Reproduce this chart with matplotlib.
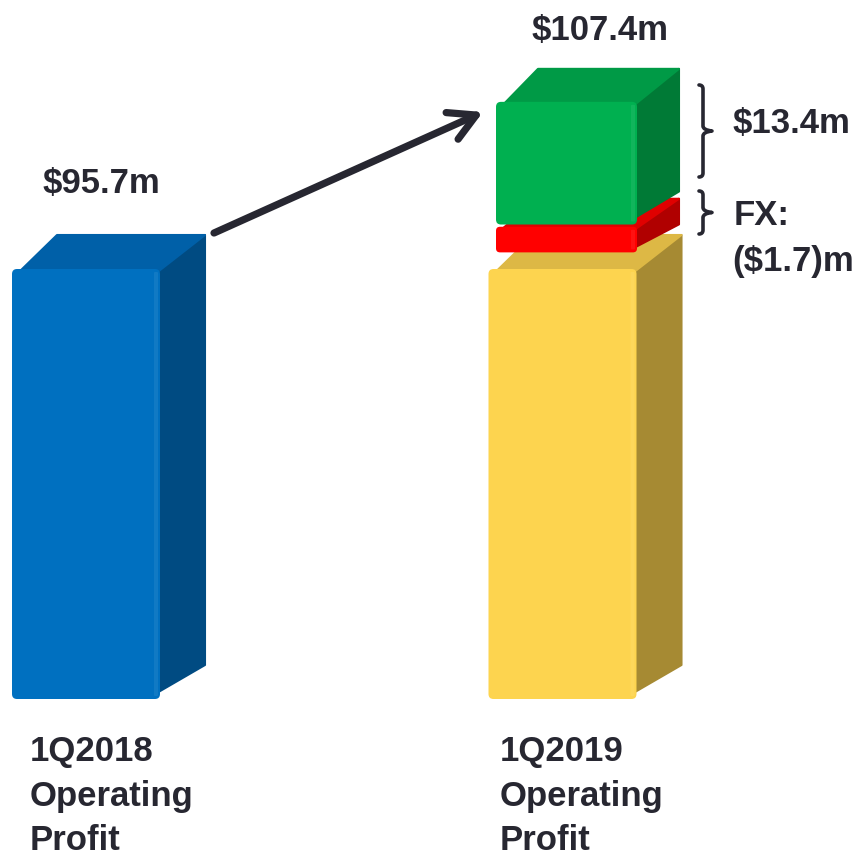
import matplotlib
matplotlib.use("Agg")
import matplotlib.pyplot as plt
from matplotlib.patches import FancyBboxPatch, Polygon
from matplotlib.path import Path
from matplotlib.patches import PathPatch

# ---------------- data ----------------
categories = ["1Q2018\nOperating\nProfit", "1Q2019\nOperating\nProfit"]
x_pos = [0, 1]
bar_values = [95.7, 95.7]            # drawn height of the two base bars
bar_colors = [("#0070C0", "#0060A8", "#004B82"),
              ("#FDD44F", "#DDB845", "#A68A33")]
# stacked (illustrative) segments on the 1Q2019 bar, as drawn
fx_span = (99.4, 105.1)
growth_span = (105.6, 132.9)
value_labels = ["$95.7m", "$107.4m"]
growth_label = "$13.4m"
fx_label = ["FX:", "($1.7)m"]

# ---------------- layout ----------------
W, H = 863, 853
fig = plt.figure(figsize=(W / 100, H / 100), dpi=100)
ax = fig.add_axes([0, 0, 1, 1])
PX_X = 476.5            # px per x unit
PX_Y = 430 / 95.7       # px per y unit
ax.set_xlim(-86 / PX_X, (W - 86) / PX_X)
ax.set_ylim(-153 / PX_Y, 700 / PX_Y)
ax.axis("off")
ASP = PX_X / PX_Y

TXT = "#272731"
FONT = dict(family=["Liberation Sans", "DejaVu Sans"], fontweight="bold",
            fontsize=25, color=TXT)


def box(xc, w, y0, y1, dxp, dyp, colors, rpx=5):
    front, top, side = colors
    dx = dxp / PX_X
    dy = dyp / PX_Y
    x0, x1 = xc - w / 2, xc + w / 2
    r = rpx / PX_X
    ry = rpx / PX_Y
    side_poly = Polygon([(x1 - r, y0 + ry), (x1 + dx, y0 + dy),
                         (x1 + dx, y1 + dy), (x1 - r, y1 - ry)],
                        closed=True, fc=side, ec=side, lw=1.5,
                        joinstyle="round", zorder=2)
    top_poly = Polygon([(x0 + r, y1 - ry), (x1 - r, y1 - ry),
                        (x1 + dx, y1 + dy), (x0 + dx, y1 + dy)],
                       closed=True, fc=top, ec=top, lw=1.5,
                       joinstyle="round", zorder=2)
    ax.add_patch(side_poly)
    ax.add_patch(top_poly)
    fr = FancyBboxPatch((x0, y0), w, y1 - y0,
                        boxstyle=f"round,pad=0,rounding_size={r}",
                        mutation_aspect=ASP, fc=front, ec="none", zorder=3)
    ax.add_patch(fr)
    # subtle highlight near the right edge of the front face
    hl = FancyBboxPatch((x1 - 6 / PX_X, y0 + 3 / PX_Y), 4 / PX_X,
                        y1 - y0 - 6 / PX_Y,
                        boxstyle="round,pad=0,rounding_size=0.002",
                        mutation_aspect=ASP, fc="white", ec="none",
                        alpha=0.07, zorder=3.5)
    ax.add_patch(hl)


# base bars
bar_w = 148 / PX_X
for x, v, c in zip(x_pos, bar_values, bar_colors):
    box(x, bar_w, 0, v, 45, 34, c)

# FX slab and growth block on the second bar
seg_x = x_pos[1] + 4 / PX_X
seg_w = 141 / PX_X
box(seg_x, seg_w, fx_span[0], fx_span[1], 42, 28,
    ("#FF0000", "#E00000", "#B00000"), rpx=4)
box(seg_x, seg_w, growth_span[0], growth_span[1], 42, 33,
    ("#00B050", "#009A46", "#007A36"))


# ---------------- annotations (figure pixel coordinates) ----------------
def fp(x, y):
    return (x / W, 1 - y / H)


fig.text(*fp(43, 193), value_labels[0], ha="left", va="baseline", **FONT)
fig.text(*fp(532, 40), value_labels[1], ha="left", va="baseline", **FONT)
fig.text(*fp(733, 133), growth_label, ha="left", va="baseline", **FONT)
fig.text(*fp(734, 225), fx_label[0], ha="left", va="baseline", **FONT)
fig.text(*fp(732, 271), fx_label[1], ha="left", va="baseline", **FONT)

label_left = [30, 500]
baselines = [761, 806, 850]
for lx, cat in zip(label_left, categories):
    for by, line in zip(baselines, cat.split("\n")):
        fig.text(*fp(lx, by), line, ha="left", va="baseline", **FONT)

# arrow
ax.annotate("", xy=fp(483, 113), xytext=fp(214, 234),
            xycoords="figure fraction", textcoords="figure fraction",
            arrowprops=dict(arrowstyle="->,head_length=1.9,head_width=1.05",
                            mutation_scale=10, lw=5.2, color=TXT,
                            shrinkA=0, shrinkB=0, capstyle="round",
                            joinstyle="round"))


# braces
def brace(xl, ytop, ybot, xline=703, xtip=712):
    ym = (ytop + ybot) / 2
    verts = [fp(xl, ytop), fp(xline, ytop), fp(xline, ytop + 4),
             fp(xline, ym - 5), fp(xline, ym - 1), fp(xtip, ym),
             fp(xline, ym + 1), fp(xline, ym + 5),
             fp(xline, ybot - 4), fp(xline, ybot), fp(xl, ybot)]
    codes = [Path.MOVETO, Path.CURVE3, Path.CURVE3,
             Path.LINETO, Path.CURVE3, Path.CURVE3,
             Path.CURVE3, Path.CURVE3,
             Path.LINETO, Path.CURVE3, Path.CURVE3]
    p = PathPatch(Path(verts, codes), fc="none", ec=TXT, lw=2.6,
                  transform=fig.transFigure, capstyle="round",
                  joinstyle="round")
    fig.patches.append(p)


brace(699, 86, 178)
brace(699, 192, 235)

fig.savefig("out.png", dpi=100)
